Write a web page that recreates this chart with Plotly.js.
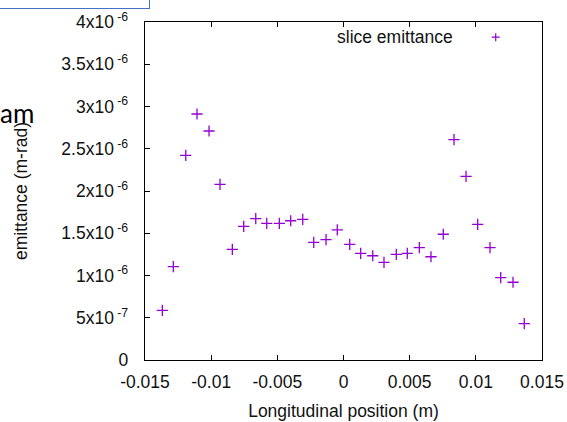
<!DOCTYPE html>
<html>
<head>
<meta charset="utf-8">
<script src="https://cdn.plot.ly/plotly-3.0.1.min.js"></script>
<style>
  html, body { margin: 0; padding: 0; background: #ffffff; }
  body { width: 567px; height: 422px; overflow: hidden; position: relative; }
  #chart { position: absolute; left: 0; top: 0; width: 567px; height: 422px; }
  /* slide elements around the figure */
  #textbox {
    position: absolute; left: -20px; top: -20px;
    width: 169.5px; height: 29px; box-sizing: border-box;
    border: 1.5px solid #4472C4;
  }
  #heading {
    position: absolute; left: 0px; top: 100px;
    font-family: Lato, "Open Sans", sans-serif; font-size: 26px;
    color: #000; line-height: 1;
  }
</style>
</head>
<body>
<div id="chart"></div>
<div id="textbox"></div>
<div id="heading">am</div>
<script>
// longitudinal slice centres (m)
const slicePosition = [-0.01369, -0.01286, -0.01192, -0.01107, -0.01016, -0.00933, -0.00840, -0.00754,
                       -0.00663, -0.00580, -0.00485, -0.00399, -0.00308, -0.00225, -0.00132, -0.00047,
                        0.00047,  0.00130,  0.00221,  0.00306,  0.00399,  0.00482,  0.00573,  0.00661,
                        0.00754,  0.00835,  0.00926,  0.01014,  0.01107,  0.01188,  0.01281,  0.01366];
// slice emittance (m-rad)
const sliceEmittance = [5.88e-7, 1.104e-6, 2.422e-6, 2.911e-6, 2.710e-6, 2.079e-6, 1.310e-6, 1.582e-6,
                        1.672e-6, 1.618e-6, 1.618e-6, 1.648e-6, 1.665e-6, 1.393e-6, 1.424e-6, 1.541e-6,
                        1.369e-6, 1.263e-6, 1.234e-6, 1.156e-6, 1.251e-6, 1.263e-6, 1.329e-6, 1.222e-6,
                        1.488e-6, 2.607e-6, 2.174e-6, 1.606e-6, 1.329e-6, 9.74e-7, 9.20e-7, 4.30e-7];

const xTickVals = [-0.015, -0.01, -0.005, 0, 0.005, 0.01, 0.015];
const xTickText = ['-0.015', '-0.01', '-0.005', '0', '0.005', '0.01', '0.015'];
const yTickVals = [0, 5e-7, 1e-6, 1.5e-6, 2e-6, 2.5e-6, 3e-6, 3.5e-6, 4e-6];
const yTickText = ['0', '5x10<sup> -7</sup>', '1x10<sup> -6</sup>', '1.5x10<sup> -6</sup>', '2x10<sup> -6</sup>',
                   '2.5x10<sup> -6</sup>', '3x10<sup> -6</sup>', '3.5x10<sup> -6</sup>', '4x10<sup> -6</sup>'];
const seriesName = 'slice emittance';

const violet = '#9400D3';
const font = { family: 'Liberation Sans, Arial, sans-serif', size: 17.5, color: '#111111' };

const trace = {
  x: slicePosition,
  y: sliceEmittance,
  type: 'scatter',
  mode: 'markers',
  name: seriesName,
  marker: { symbol: 'cross-thin', size: 8, color: violet, line: { color: violet, width: 1.3 } },
  showlegend: false
};

// key entry in gnuplot style: text on the left, sample on the right
const keyX = 0.8834, keyY = 0.955, keyDx = 0.0101, keyDy = 0.0118;

const layout = {
  width: 567, height: 422,
  margin: { l: 145, r: 25, t: 22, b: 62 },
  paper_bgcolor: 'rgba(0,0,0,0)',
  plot_bgcolor: 'rgba(0,0,0,0)',
  font: font,
  showlegend: false,
  xaxis: {
    range: [-0.015, 0.015],
    tickvals: xTickVals, ticktext: xTickText,
    ticks: 'inside', ticklen: 5, tickwidth: 1, tickcolor: '#000',
    showline: true, linecolor: '#000', linewidth: 1.3, mirror: 'ticks',
    showgrid: false, zeroline: false,
    ticklabelstandoff: 6,
    tickfont: font,
    title: { text: 'Longitudinal position (m)', font: font, standoff: 13 }
  },
  yaxis: {
    range: [0, 4e-6],
    tickvals: yTickVals, ticktext: yTickText,
    ticks: 'inside', ticklen: 5, tickwidth: 1, tickcolor: '#000',
    showline: true, linecolor: '#000', linewidth: 1.3, mirror: true,
    showgrid: false, zeroline: false,
    ticklabelstandoff: 12,
    tickfont: font,
    title: { text: 'emittance (m-rad)', font: font, standoff: 29 }
  },
  annotations: [{
    xref: 'paper', yref: 'paper', x: 0.781, y: 0.956,
    xanchor: 'right', yanchor: 'middle', showarrow: false,
    text: seriesName, font: font
  }],
  shapes: [{
    type: 'path', xref: 'paper', yref: 'paper',
    path: `M ${keyX - keyDx} ${keyY} L ${keyX + keyDx} ${keyY} M ${keyX} ${keyY - keyDy} L ${keyX} ${keyY + keyDy}`,
    line: { color: violet, width: 1.2 }
  }]
};

Plotly.newPlot('chart', [trace], layout, { staticPlot: true, displayModeBar: false });
</script>
</body>
</html>
